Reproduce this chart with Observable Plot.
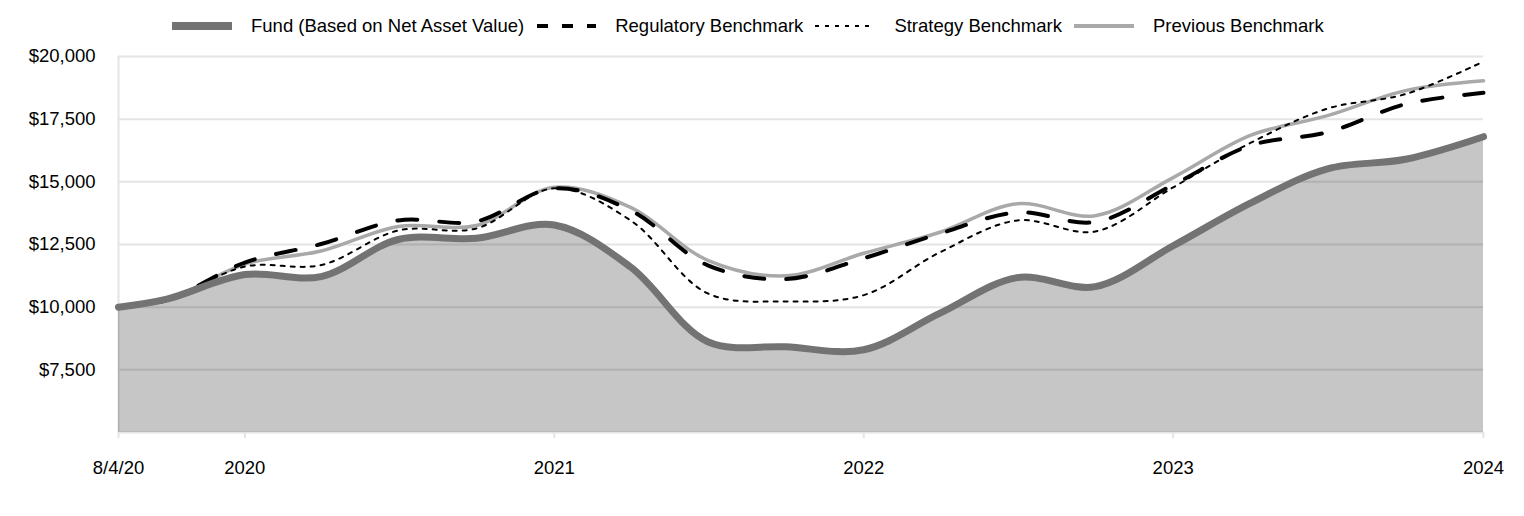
<!DOCTYPE html>
<html>
<head>
<meta charset="utf-8">
<script src="https://cdn.jsdelivr.net/npm/d3@7"></script>
<script src="https://cdn.jsdelivr.net/npm/@observablehq/plot@0.6"></script>
<style>
  html, body { margin: 0; padding: 0; background: #fff; }
  body { width: 1524px; height: 516px; overflow: hidden; font-family: "Liberation Sans", Arial, sans-serif; }
  #legend { height: 52px; display: flex; align-items: center; padding-left: 172px; font-size: 18.5px; color: #000; box-sizing: border-box; }
  #legend .item { display: flex; align-items: center; }
  #legend .item span { margin-left: 19px; margin-right: 12px; white-space: nowrap; }
  #legend svg { display: block; }
</style>
</head>
<body>
<div id="legend"></div>
<div id="chart"></div>
<script>
// ---- data ----
const dates = ["2020-08-04","2020-09-30","2020-12-31","2021-03-31","2021-06-30","2021-09-30","2021-12-31",
  "2022-03-31","2022-06-30","2022-09-30","2022-12-31","2023-03-31","2023-06-30","2023-09-30","2023-12-31",
  "2024-03-31","2024-06-30","2024-09-30","2024-12-31"];
const fund =       [10000,10320,11300,11220,12700,12750,13280,11600, 8620, 8420, 8300, 9760,11180,10820,12450,14150,15520,15900,16800];
const regulatory = [10000,10280,11780,12520,13460,13420,14740,13860,11670,11120,11950,12940,13780,13400,14880,16450,16980,18100,18550];
const strategy =   [10000,10280,11620,11680,13060,13140,14740,13460,10550,10230,10480,12190,13460,13020,14780,16550,17920,18500,19800];
const previous =   [10000,10280,11720,12240,13220,13260,14780,13980,11870,11250,12150,12990,14130,13650,15170,16850,17640,18640,19030];

const seriesNames = ["Fund (Based on Net Asset Value)","Regulatory Benchmark","Strategy Benchmark","Previous Benchmark"];
const yTicks = [7500,10000,12500,15000,17500,20000];
const xTickDates = ["2020-08-04","2020-12-31","2021-12-31","2022-12-31","2023-12-31","2024-12-31"];
const xTickLabels = ["8/4/20","2020","2021","2022","2023","2024"];
const yMin = 5000, yMax = 20000;

// ---- build rows ----
const parse = d3.utcParse("%Y-%m-%d");
const rows = (vals) => dates.map((d, i) => ({date: parse(d), value: vals[i]}));
const fundRows = rows(fund), regRows = rows(regulatory), stratRows = rows(strategy), prevRows = rows(previous);
const tickDates = xTickDates.map(parse);
const labelOf = new Map(tickDates.map((d, i) => [+d, xTickLabels[i]]));

const styles = [
  {stroke: "#737373", strokeWidth: 7, dash: null, swatchW: 8},
  {stroke: "#000000", strokeWidth: 4, dash: "20,22", swatchW: 4},
  {stroke: "#000000", strokeWidth: 2, dash: "4,6", swatchW: 2},
  {stroke: "#a9a9a9", strokeWidth: 3.5, dash: null, swatchW: 4}
];

// ---- legend ----
const legend = document.getElementById("legend");
seriesNames.forEach((name, i) => {
  const s = styles[i];
  const item = document.createElement("div");
  item.className = "item";
  const dashAttr = i === 1 ? ' stroke-dasharray="11,14" stroke-dashoffset="-1"' : (i === 2 ? ' stroke-dasharray="4,6"' : "");
  item.innerHTML = `<svg width="60" height="20"><line x1="0" x2="60" y1="10" y2="10" stroke="${s.stroke}" stroke-width="${s.swatchW}"${dashAttr}/></svg><span>${name}</span>`;
  legend.appendChild(item);
});

// ---- chart ----
const chart = Plot.plot({
  width: 1524,
  height: 464,
  marginLeft: 118,
  marginRight: 41,
  marginTop: 4,
  marginBottom: 84,
  style: {fontFamily: "'Liberation Sans', Arial, sans-serif", fontSize: "18.5px", color: "#000", background: "#fff", overflow: "visible"},
  x: {type: "utc", domain: [parse(dates[0]), parse(dates[dates.length - 1])]},
  y: {domain: [yMin, yMax]},
  marks: [
    Plot.ruleY(yTicks.concat([yMin]), {stroke: "#e4e4e4", strokeWidth: 2}),
    Plot.ruleX([parse(dates[0])], {stroke: "#e4e4e4", strokeWidth: 2}),
    Plot.areaY(fundRows, {x: "date", y1: yMin, y2: "value", fill: "#000", fillOpacity: 0.225, curve: "catmull-rom"}),
    Plot.lineY(prevRows, {x: "date", y: "value", stroke: styles[3].stroke, strokeWidth: styles[3].strokeWidth, curve: "catmull-rom"}),
    Plot.lineY(stratRows, {x: "date", y: "value", stroke: styles[2].stroke, strokeWidth: styles[2].strokeWidth, strokeDasharray: styles[2].dash, curve: "catmull-rom"}),
    Plot.lineY(regRows, {x: "date", y: "value", stroke: styles[1].stroke, strokeWidth: styles[1].strokeWidth, strokeDasharray: styles[1].dash, curve: "catmull-rom"}),
    Plot.lineY(fundRows, {x: "date", y: "value", stroke: styles[0].stroke, strokeWidth: styles[0].strokeWidth, curve: "catmull-rom"}),
    Plot.axisY(yTicks, {tickSize: 0, tickPadding: 23, tickFormat: d => "$" + d3.format(",")(d), label: null}),
    Plot.axisX(tickDates, {tickSize: 6, tickPadding: 22, stroke: "#e4e4e4", strokeWidth: 2, tickFormat: d => labelOf.get(+d), label: null})
  ]
});
document.getElementById("chart").appendChild(chart);
</script>
</body>
</html>
